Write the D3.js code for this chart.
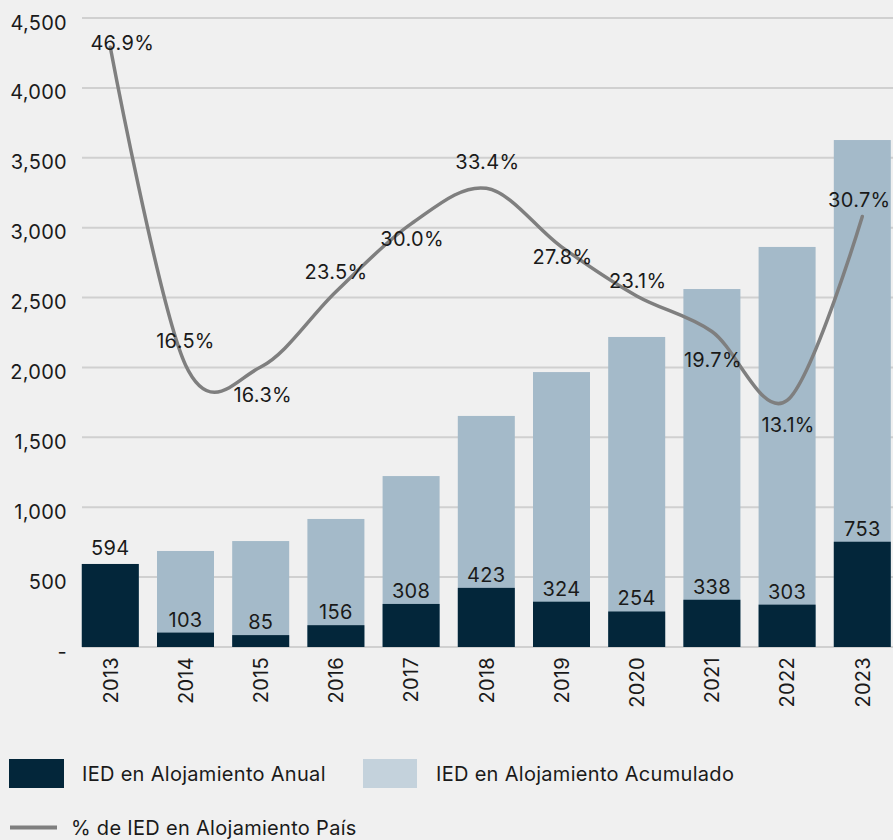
<!DOCTYPE html>
<html>
<head>
<meta charset="utf-8">
<script src="https://d3js.org/d3.v7.min.js"></script>
<style>
	html, body {
		margin: 0;
		padding: 0;
		background: #f0f0f0;
	}
	svg {
		display: block;
		font-family: Inter, "Noto Sans", sans-serif;
		letter-spacing: 0.3px;
	}
</style>
</head>
<body>
<svg id="chart" width="893" height="840"></svg>
<script>
// data
var years = ["2013","2014","2015","2016","2017","2018","2019","2020","2021","2022","2023"];
var annual = [594, 103, 85, 156, 308, 423, 324, 254, 338, 303, 753];
var accumulated = [594, 687, 758, 916, 1223, 1653, 1967, 2218, 2561, 2862, 3627];
var pctCountry = [46.9, 16.5, 16.3, 23.5, 30.0, 33.4, 27.8, 23.1, 19.7, 13.1, 30.7];
var yTicks = [0, 500, 1000, 1500, 2000, 2500, 3000, 3500, 4000, 4500];

var seriesNames = ["IED en Alojamiento Anual", "IED en Alojamiento Acumulado", "% de IED en Alojamiento País"];

var DARK = "#03263a";
var LIGHT = "#a4bac9";
var LIGHT_KEY = "#c4d2dc";
var LINE = "#7f7f7f";
var TEXT = "#1a1a1a";
var FS = "20px";

var svg = d3.select("#chart");

var x = d3.scaleBand()
	.domain(years)
	.range([72.7, 899.9])
	.paddingInner(0.242)
	.paddingOuter(0.121);

var y = d3.scaleLinear().domain([0, 4500]).range([647, 18]);
// secondary axis for the % line (not drawn)
var y2 = d3.scaleLinear().domain([-10.5, 49.7]).range([647, 18]);

// gridlines
svg.append("g")
	.selectAll("line")
	.data(yTicks)
	.enter().append("line")
	.attr("x1", 82)
	.attr("x2", 893)
	.attr("y1", function(d){ return y(d); })
	.attr("y2", function(d){ return y(d); })
	.style("stroke", "#d0d0d0")
	.style("stroke-width", 2);

// y axis labels
var yAxis = d3.axisLeft(y)
	.tickValues(yTicks)
	.tickSize(0)
	.tickPadding(0)
	.tickFormat(function(d){ return d === 0 ? "-" : d3.format(",")(d); });

var gy = svg.append("g")
	.attr("transform", "translate(67,0)")
	.call(yAxis);
gy.select(".domain").remove();
gy.selectAll("text")
	.attr("x", 0)
	.attr("dy", "0.55em")
	.style("font-size", FS)
	.style("font-family", "Inter, sans-serif")
	.style("fill", TEXT);

// x axis labels (rotated)
var xAxis = d3.axisBottom(x).tickSize(0).tickPadding(0);
var gx = svg.append("g")
	.attr("transform", "translate(0,657)")
	.call(xAxis);
gx.select(".domain").remove();
gx.selectAll("text")
	.attr("transform", "rotate(-90)")
	.attr("x", 0)
	.attr("y", 0)
	.attr("dy", "0.36em")
	.style("text-anchor", "end")
	.style("font-size", FS)
	.style("font-family", "Inter, sans-serif")
	.style("fill", TEXT);

// accumulated bars (behind)
svg.append("g")
	.selectAll("rect")
	.data(accumulated)
	.enter().append("rect")
	.attr("x", function(d, i){ return x(years[i]); })
	.attr("width", x.bandwidth())
	.attr("y", function(d){ return y(d); })
	.attr("height", function(d){ return y(0) - y(d); })
	.style("fill", LIGHT);

// annual bars (front)
svg.append("g")
	.selectAll("rect")
	.data(annual)
	.enter().append("rect")
	.attr("x", function(d, i){ return x(years[i]); })
	.attr("width", x.bandwidth())
	.attr("y", function(d){ return y(d); })
	.attr("height", function(d){ return y(0) - y(d); })
	.style("fill", DARK);

// annual value labels
svg.append("g")
	.selectAll("text")
	.data(annual)
	.enter().append("text")
	.attr("x", function(d, i){ return x(years[i]) + x.bandwidth() / 2; })
	.attr("y", function(d, i){ return y(d) - (i === 0 ? 9 : 6); })
	.attr("text-anchor", "middle")
	.style("font-size", FS)
	.style("fill", TEXT)
	.text(function(d){ return d; });

// % line, smoothed like the spreadsheet one
var line = d3.line()
	.x(function(d, i){ return x(years[i]) + x.bandwidth() / 2; })
	.y(function(d){ return y2(d); })
	.curve(d3.curveCardinal.tension(0));

svg.append("path")
	.datum(pctCountry)
	.attr("d", line)
	.style("fill", "none")
	.style("stroke", LINE)
	.style("stroke-width", 3.5)
	.style("stroke-linecap", "round");

// label nudges for the % values (px, relative to the point)
var pctDx = [12, 0, 2, 0, 1, 1, 1, 1, 1, 1, -3];
var pctDy = [-4, -24, 28, -20, 15, -27, 10, -15, 28, 24, -17];

svg.append("g")
	.selectAll("text")
	.data(pctCountry)
	.enter().append("text")
	.attr("x", function(d, i){ return x(years[i]) + x.bandwidth() / 2 + pctDx[i]; })
	.attr("y", function(d, i){ return y2(d) + pctDy[i]; })
	.attr("dy", "0.36em")
	.attr("text-anchor", "middle")
	.style("font-size", FS)
	.style("fill", TEXT)
	.text(function(d){ return d.toFixed(1) + "%"; });

// legend
var legend = svg.append("g");
legend.append("rect")
	.attr("x", 9).attr("y", 759).attr("width", 55).attr("height", 29)
	.style("fill", DARK);
legend.append("text")
	.attr("x", 82).attr("y", 774).attr("dy", "0.36em")
	.style("font-size", FS).style("fill", TEXT)
	.text(seriesNames[0]);
legend.append("rect")
	.attr("x", 363).attr("y", 759).attr("width", 54).attr("height", 29)
	.style("fill", LIGHT_KEY);
legend.append("text")
	.attr("x", 436).attr("y", 774).attr("dy", "0.36em")
	.style("font-size", FS).style("fill", TEXT)
	.text(seriesNames[1]);
legend.append("line")
	.attr("x1", 10).attr("x2", 57).attr("y1", 827.5).attr("y2", 827.5)
	.style("stroke", LINE).style("stroke-width", 4);
legend.append("text")
	.attr("x", 71).attr("y", 828).attr("dy", "0.36em")
	.style("font-size", FS).style("fill", TEXT)
	.text(seriesNames[2]);
</script>
</body>
</html>
